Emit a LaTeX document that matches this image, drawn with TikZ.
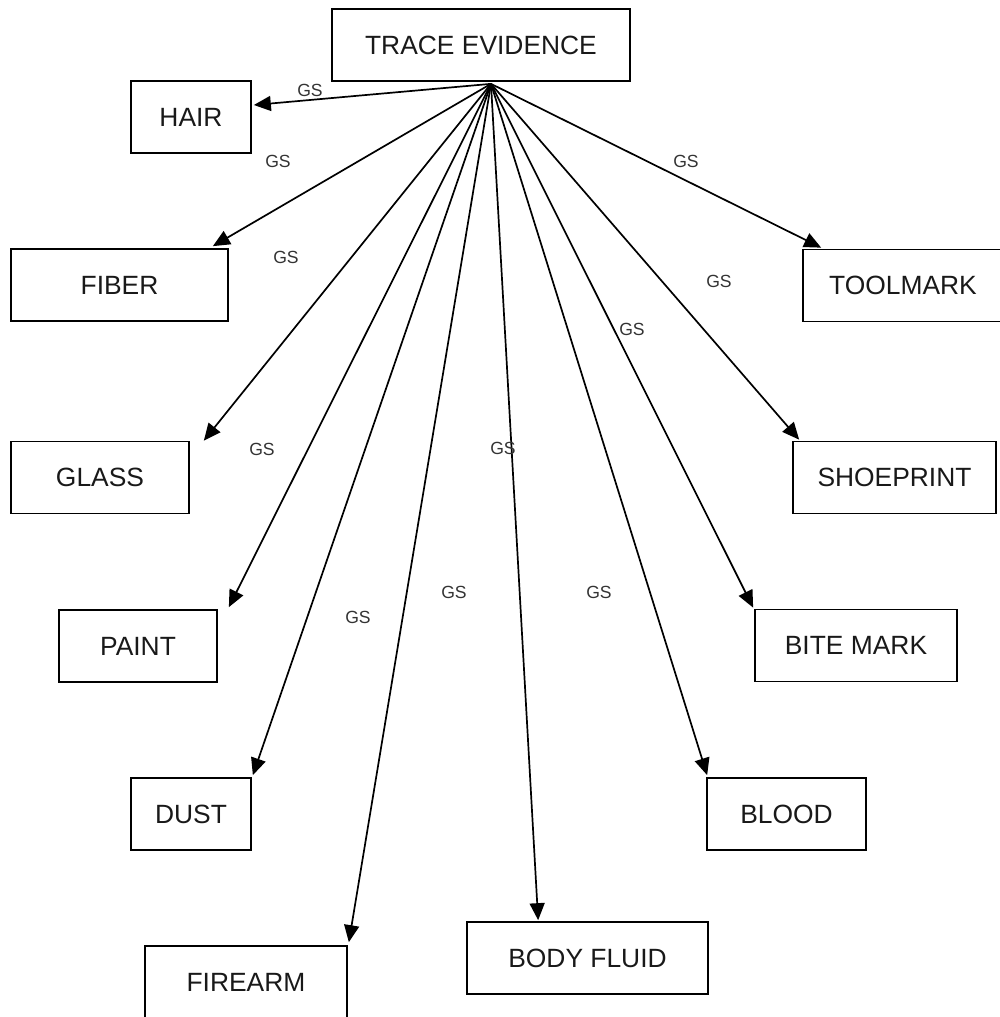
\documentclass[tikz,border=0pt]{standalone}
\usepackage{fontspec}
\setmainfont{Liberation Sans}
\usetikzlibrary{calc, arrows.meta, positioning}

\begin{document}
\begin{tikzpicture}[x=0.5pt, y=-0.5pt,
        n/.style={draw, line width=0.85pt, minimum height=36pt, inner sep=0pt,
                  font=\fontsize{13.2}{16}\selectfont, text=black!90},
        gs/.style={inner sep=0pt, font=\fontsize{8.8}{10}\selectfont, text=black!80},
        e/.style={-{Triangle[length=8.5pt, width=7.5pt]}, line width=0.85pt}]
        \useasboundingbox (0,0) rectangle (1000,1017);

        \node[n, minimum width=149pt] (te) at (481,45) {TRACE EVIDENCE};
        \coordinate (hub) at ($(te.south)+(10,2)$);

        \foreach \n/\x/\y/\w/\t in {hair/191/117/120/HAIR, fiber/119.5/285/217/FIBER,
                glass/100/477.5/178/GLASS, paint/138/646/158/PAINT, dust/191/814/120/DUST,
                firearm/246/982/202/FIREARM, bodyfluid/587.5/958/241/BODY FLUID,
                blood/786.5/814/159/BLOOD, bitemark/856/645.5/202/BITE MARK,
                shoeprint/894.5/477.5/203/SHOEPRINT, toolmark/903/285.5/200/TOOLMARK}
        \node[n, minimum width=\w*0.5pt] (\n) at (\x,\y) {\t};

        \foreach \n/\a/\dx/\dy in {hair/east/2/-12, fiber/north east/-16/-2,
                glass/north east/14/0, paint/north east/11/-2, dust/north east/1/-2,
                firearm/north east/1/-3, bodyfluid/north west/72/-1, blood/north west/1/-2,
                bitemark/north west/-1/-1, shoeprint/north west/7/-1, toolmark/north west/19/-1}
        \draw[e] (hub) -- ($(\n.\a)+(\dx,\dy)$);

        % edge labels
        \foreach \i/\x/\y in {1/310/90, 2/278/161, 3/286/257, 4/262/449, 5/503/448, 6/358/617,
                7/454/592, 8/599/592, 9/632/329, 10/719/281, 11/686/161}
        \node[gs] (gs\i) at (\x,\y) {GS};
      \end{tikzpicture}
\end{document}
